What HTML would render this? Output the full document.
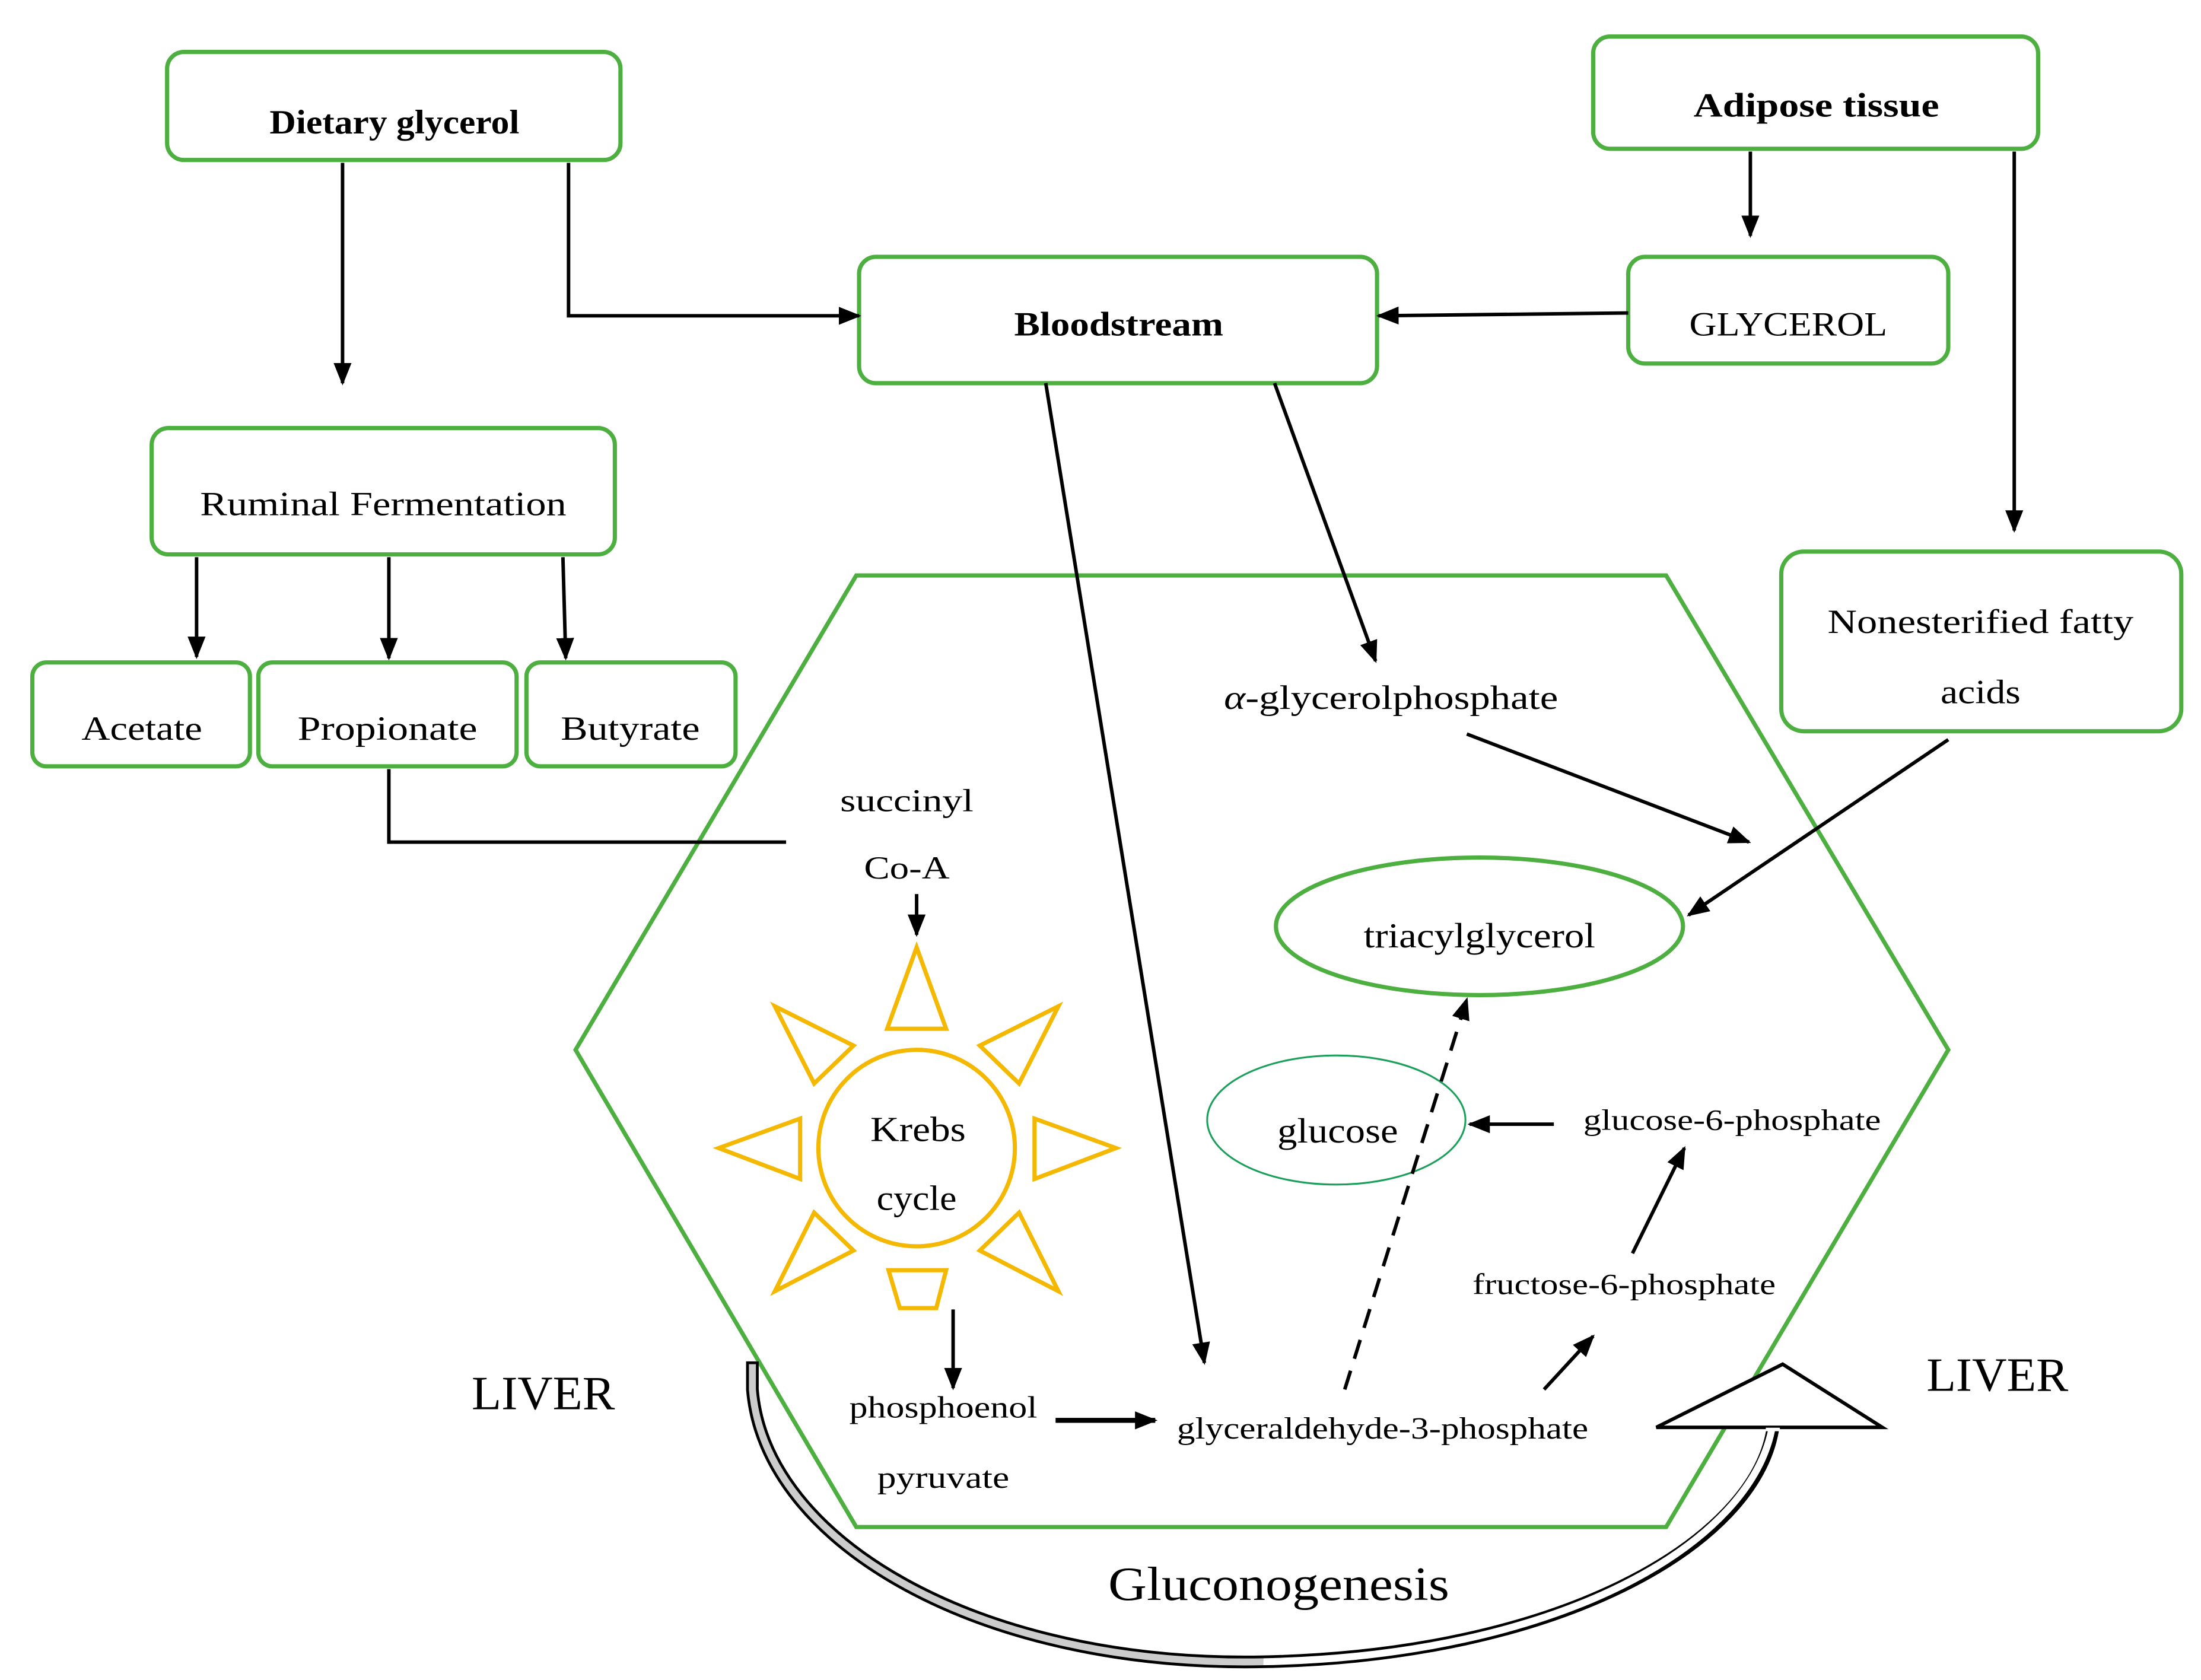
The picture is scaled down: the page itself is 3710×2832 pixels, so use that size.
<!DOCTYPE html>
<html><head><style>html,body{margin:0;padding:0;background:#fff}svg{display:block}</style></head>
<body>
<svg width="3710" height="2832" viewBox="0 0 1568 1197" xmlns="http://www.w3.org/2000/svg" font-family="'Liberation Serif',serif">
<defs>
<marker id="b" viewBox="0 0 10 10" markerWidth="16" markerHeight="16" refX="9" refY="5" orient="auto" markerUnits="userSpaceOnUse"><path d="M0,1 L10,5 L0,9z" fill="#000"/></marker>
</defs>
<g fill="none" stroke="#4caf3f" stroke-width="3">
<rect x="119" y="37" width="323" height="77" rx="12"/>
<rect x="1135" y="26" width="317" height="80" rx="12"/>
<rect x="612" y="183" width="369" height="90" rx="12"/>
<rect x="1160" y="183" width="228" height="76" rx="12"/>
<rect x="108" y="305" width="330" height="90" rx="12"/>
<rect x="23" y="472" width="155" height="74" rx="10"/>
<rect x="184" y="472" width="184" height="74" rx="10"/>
<rect x="375" y="472" width="149" height="74" rx="10"/>
<rect x="1269" y="393" width="285" height="128" rx="16"/>
<polygon points="610,410 1187,410 1388,748 1187,1088 610,1088 410,748"/>
<ellipse cx="1054" cy="660" rx="145" ry="49"/>
<ellipse cx="952" cy="798" rx="92" ry="46" stroke-width="1.3" stroke="#1aa05a"/>
</g>
<g fill="#000" text-anchor="middle" lengthAdjust="spacingAndGlyphs">
<text x="281" y="95" font-size="24" font-weight="bold" textLength="178" lengthAdjust="spacingAndGlyphs">Dietary glycerol</text>
<text x="1294" y="83" font-size="24" font-weight="bold" textLength="175" lengthAdjust="spacingAndGlyphs">Adipose tissue</text>
<text x="797" y="239" font-size="24" font-weight="bold" textLength="149" lengthAdjust="spacingAndGlyphs">Bloodstream</text>
<text x="1274" y="239" font-size="24" textLength="141" lengthAdjust="spacingAndGlyphs">GLYCEROL</text>
<text x="273" y="367" font-size="24" textLength="261" lengthAdjust="spacingAndGlyphs">Ruminal Fermentation</text>
<text x="101" y="527" font-size="24" textLength="86" lengthAdjust="spacingAndGlyphs">Acetate</text>
<text x="276" y="527" font-size="24" textLength="128" lengthAdjust="spacingAndGlyphs">Propionate</text>
<text x="449" y="527" font-size="24" textLength="99" lengthAdjust="spacingAndGlyphs">Butyrate</text>
<text x="1411" y="451" font-size="24" textLength="218" lengthAdjust="spacingAndGlyphs">Nonesterified fatty</text>
<text x="1411" y="501" font-size="24" textLength="57" lengthAdjust="spacingAndGlyphs">acids</text>
<text x="646" y="578" font-size="23" textLength="95" lengthAdjust="spacingAndGlyphs">succinyl</text>
<text x="646" y="626" font-size="23" textLength="61" lengthAdjust="spacingAndGlyphs">Co-A</text>
<text x="654" y="813" font-size="25" textLength="68" lengthAdjust="spacingAndGlyphs">Krebs</text>
<text x="653" y="862" font-size="25" textLength="57" lengthAdjust="spacingAndGlyphs">cycle</text>
<text x="672" y="1010" font-size="22" textLength="134" lengthAdjust="spacingAndGlyphs">phosphoenol</text>
<text x="672" y="1060" font-size="22" textLength="94" lengthAdjust="spacingAndGlyphs">pyruvate</text>
<text x="985" y="1025" font-size="22" textLength="293" lengthAdjust="spacingAndGlyphs">glyceraldehyde-3-phosphate</text>
<text x="991" y="505" font-size="24" textLength="238" lengthAdjust="spacingAndGlyphs"><tspan font-style="italic">α</tspan>-glycerolphosphate</text>
<text x="1054" y="675" font-size="25" textLength="165" lengthAdjust="spacingAndGlyphs">triacylglycerol</text>
<text x="953" y="814" font-size="25" textLength="86" lengthAdjust="spacingAndGlyphs">glucose</text>
<text x="1234" y="805" font-size="21" textLength="212" lengthAdjust="spacingAndGlyphs">glucose-6-phosphate</text>
<text x="1157" y="922" font-size="21" textLength="216" lengthAdjust="spacingAndGlyphs">fructose-6-phosphate</text>
<text x="387" y="1004" font-size="34" textLength="102" lengthAdjust="spacingAndGlyphs">LIVER</text>
<text x="1423" y="991" font-size="34" textLength="101" lengthAdjust="spacingAndGlyphs">LIVER</text>
<text x="911" y="1140" font-size="34" textLength="243" lengthAdjust="spacingAndGlyphs">Gluconogenesis</text>
</g>
<g stroke="#000" stroke-width="2.5" fill="none" marker-end="url(#b)">
<path d="M244,116 V273"/>
<path d="M405,116 V225 H612"/>
<path d="M1247,108 V168"/>
<path d="M1435,108 V378"/>
<path d="M1160,223 L982,225"/>
<path d="M745,273 L858,971"/>
<path d="M908,273 L980,471"/>
<path d="M140,397 V468"/>
<path d="M277,397 V469"/>
<path d="M401,397 L403,469"/>
<path d="M653,637 V666"/>
<path d="M679,933 V989"/>
<path d="M752,1012 H823" stroke-width="3.5"/>
<path d="M1045,523 L1246,600"/>
<path d="M1388,527 L1203,652"/>
<path d="M1107,801 H1047"/>
<path d="M1163,893 L1200,818"/>
<path d="M1100,990 L1135,952"/>
<path d="M958,990 L1045,712" stroke-dasharray="14,9"/>
</g>
<path d="M277,548 V600 H560" stroke="#000" stroke-width="2.5" fill="none"/>
<g stroke="#f5b800" stroke-width="3" fill="none">
<circle cx="653" cy="818" r="70"/>
<polygon points="653,675 632,733 674,733"/>
<polygon points="633,905 674,905 667,932 641,932"/>
<polygon points="512,818 570,797 570,840"/>
<polygon points="795,818 737,797 737,840"/>
<polygon points="552,717 608,745 580,772"/>
<polygon points="754,717 698,745 726,772"/>
<polygon points="552,920 608,891 580,864"/>
<polygon points="754,920 698,891 726,864"/>
</g>
<path d="M536,970 V990 C545,1100 700,1188 900,1184 C1110,1180 1250,1100 1263,1018" stroke="#000" stroke-width="9" fill="none"/>
<path d="M536,972 V990 C545,1100 700,1188 900,1184" stroke="#ccc" stroke-width="5" fill="none"/>
<path d="M900,1184 C1110,1180 1250,1100 1263,1014" stroke="#fff" stroke-width="5" fill="none"/>
<polygon points="1180,1017 1270,972 1341,1017" fill="#fff" stroke="#000" stroke-width="2.5"/>
<path d="M1258,1018.5 H1268" stroke="#fff" stroke-width="2.5"/>
</svg>
</body></html>
